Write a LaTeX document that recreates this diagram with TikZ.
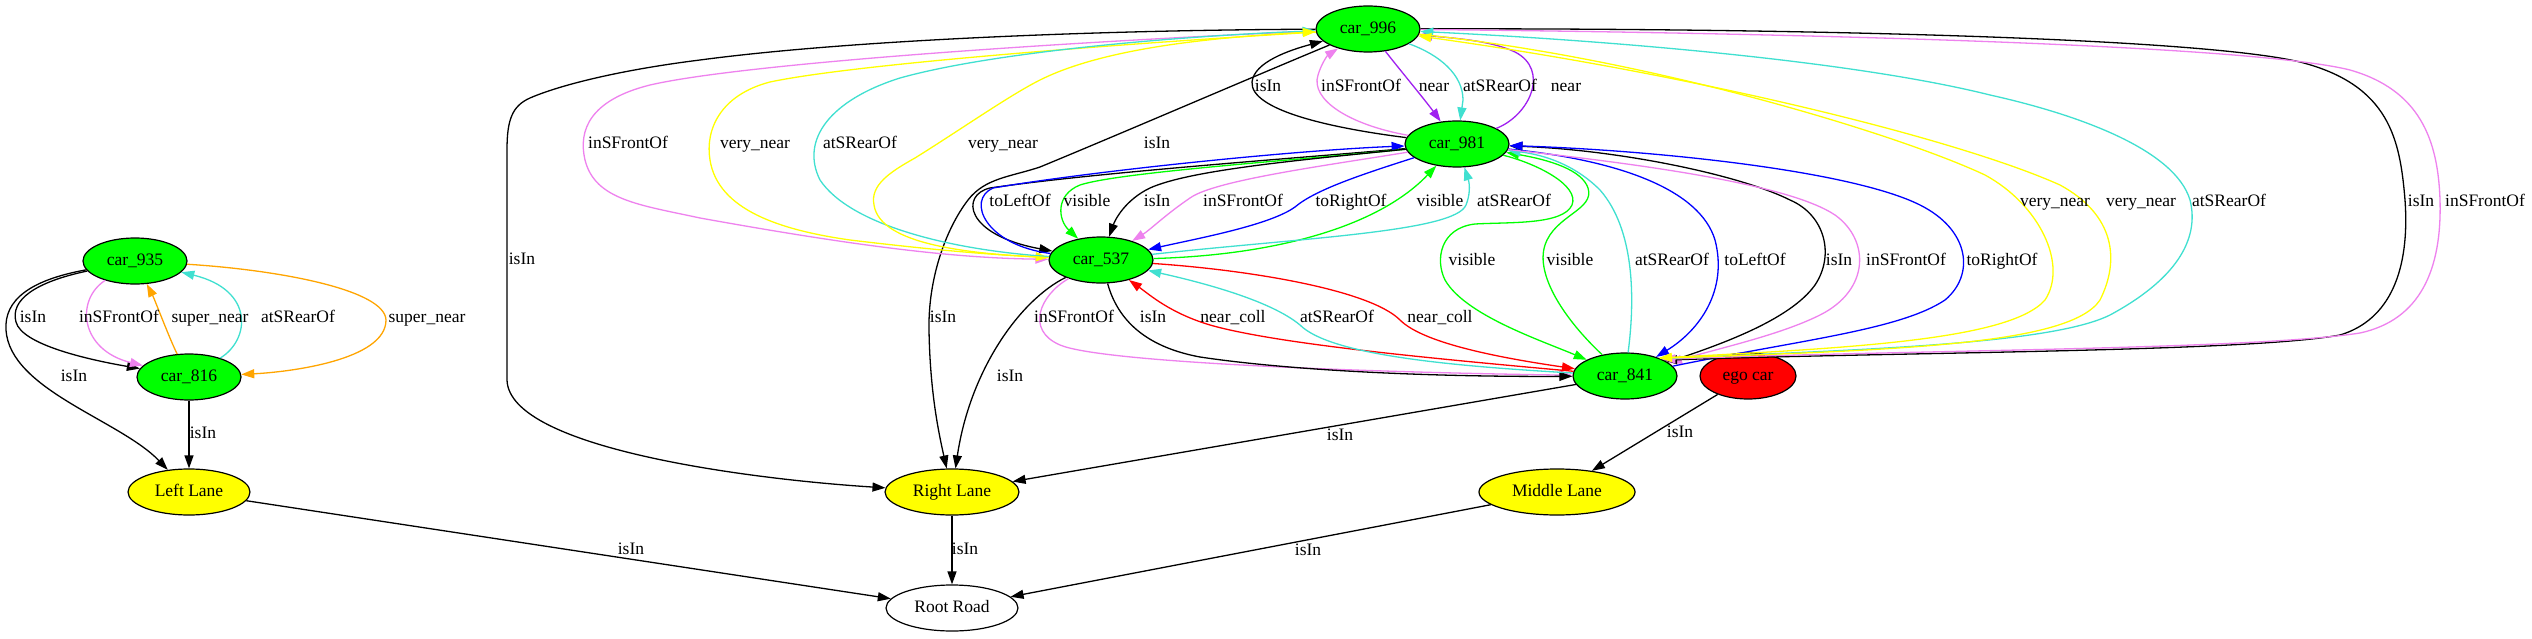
\documentclass[tikz,border=0pt]{standalone}
\usepackage{fontspec}
\setmainfont{Liberation Serif}
\usetikzlibrary{shapes.geometric,arrows.meta}
\definecolor{gvgreen}{HTML}{00FF00}
\definecolor{gvred}{HTML}{FF0000}
\definecolor{gvyellow}{HTML}{FFFF00}
\definecolor{gvviolet}{HTML}{EE82EE}
\definecolor{gvturq}{HTML}{40E0D0}
\definecolor{gvorange}{HTML}{FFA500}
\definecolor{gvblue}{HTML}{0000FF}
\definecolor{gvpurple}{HTML}{A020F0}
\begin{document}
\begin{tikzpicture}[x=1pt,y=-1pt,
  gvnode/.style={ellipse, draw=black, line width=1.2pt, inner sep=0pt, minimum height=46pt,
    font=\fontsize{17.5}{20}\selectfont, text height=12.5pt, text depth=3.5pt},
  car/.style={gvnode, fill=gvgreen, minimum width=104pt},
  lane/.style={gvnode, fill=gvyellow},
  lab/.style={inner sep=0pt, font=\fontsize{17.5}{20}\selectfont, text height=12.5pt, text depth=3.5pt},
  e/.style={line width=1.3pt, -{Triangle[length=13pt,width=9pt]}}]
\fill[white] (0,0) rectangle (2532,639);
\useasboundingbox (0,0) rectangle (2532,639);
% nodes
\node[car] (c996) at (1368,29) {car\_996};
\node[car] (c981) at (1457,144) {car\_981};
\node[car] (c537) at (1101,260) {car\_537};
\node[car] (c841) at (1625,376) {car\_841};
\node[gvnode, fill=gvred, minimum width=96pt] (ego) at (1748,376) {ego car};
\node[car] (c935) at (135,261) {car\_935};
\node[car] (c816) at (189,377) {car\_816};
\node[lane, minimum width=122pt] (left) at (189,492) {Left Lane};
\node[lane, minimum width=134pt] (right) at (952,492) {Right Lane};
\node[lane, minimum width=156pt] (middle) at (1557,492) {Middle Lane};
\node[gvnode, fill=white, minimum width=132pt] (root) at (952,608) {Root Road};
% left cluster
\draw[e] (c935) .. controls (35,282) and (10,300) .. (16,322) .. controls (22,345) and (90,360) .. (c816);
\draw[e] (c935) .. controls (30,280) and (4,300) .. (6,330) .. controls (10,390) and (120,420) .. (left);
\draw[e,gvviolet] (c935) .. controls (75,300) and (80,350) .. (c816);
\draw[e,gvorange] (c816) .. controls (170,340) and (155,300) .. (c935);
\draw[e,gvturq] (c816) .. controls (250,340) and (255,290) .. (c935);
\draw[e,gvorange] (c935) .. controls (280,270) and (385,290) .. (386,320) .. controls (386,360) and (290,372) .. (c816);
\draw[e] (c816) -- (left);
\draw[e] (left) -- (root);
\draw[e] (right) -- (root);
\draw[e] (middle) -- (root);
\draw[e] (ego) -- (middle);
\draw[e] (c841) -- (right);
% car_996 -> Right Lane (big loop)
\draw[e] (c996) .. controls (1100,30) and (850,40) .. (700,60) .. controls (620,70) and (560,85) .. (530,98) .. controls (512,106) and (507,120) .. (507,150) -- (507,380) .. controls (509,450) and (760,480) .. (right);
\draw[e] (c996) .. controls (1250,78) and (1120,134) .. (1040,167) .. controls (1010,177) and (985,178) .. (968,200) .. controls (945,230) and (928,280) .. (929,330) .. controls (930,390) and (938,430) .. (right);
% car_981 <-> car_537
\draw[e] (c981) .. controls (1300,158) and (1100,172) .. (990,188) .. controls (960,195) and (965,235) .. (c537);
\draw[e,gvblue] (c537) .. controls (985,245) and (966,200) .. (993,188) .. controls (1100,170) and (1300,150) .. (c981);
\draw[e,gvgreen] (c981) .. controls (1300,160) and (1120,172) .. (1080,185) .. controls (1055,195) and (1058,220) .. (c537);
\draw[e] (c981) .. controls (1300,160) and (1190,170) .. (1150,188) .. controls (1125,200) and (1115,220) .. (c537);
\draw[e,gvviolet] (c981) .. controls (1330,165) and (1215,180) .. (1190,198) .. controls (1165,215) and (1150,230) .. (c537);
\draw[e,gvblue] (c981) .. controls (1360,175) and (1315,190) .. (1295,207) .. controls (1270,225) and (1200,238) .. (c537);
\draw[e,gvgreen] (c537) .. controls (1280,255) and (1380,225) .. (c981);
\draw[e,gvturq] (c537) .. controls (1300,238) and (1455,232) .. (1466,205) .. controls (1470,195) and (1470,185) .. (c981);
% car_996 <-> car_981
\draw[e] (c981) .. controls (1330,128) and (1250,110) .. (1252,82) .. controls (1254,62) and (1290,50) .. (c996);
\draw[e,gvviolet] (c981) .. controls (1350,125) and (1310,100) .. (1318,75) .. controls (1322,62) and (1328,55) .. (c996);
\draw[e,gvpurple] (c996) .. controls (1400,70) and (1425,100) .. (c981);
\draw[e,gvturq] (c996) .. controls (1440,55) and (1463,75) .. (1463,100) -- (c981);
\draw[e,gvpurple] (c981) .. controls (1530,115) and (1550,70) .. (1515,52) .. controls (1490,40) and (1450,38) .. (c996);
% car_996 <-> car_537
\draw[e,gvviolet] (c996) .. controls (1100,40) and (750,62) .. (650,85) .. controls (590,100) and (578,130) .. (585,160) .. controls (595,200) and (640,205) .. (700,218) .. controls (850,245) and (950,258) .. (c537);
\draw[e,gvyellow] (c996) .. controls (1100,45) and (850,65) .. (770,82) .. controls (720,95) and (705,130) .. (710,160) .. controls (718,210) and (780,230) .. (850,240) .. controls (950,252) and (1000,255) .. (c537);
\draw[e,gvturq] (c537) .. controls (950,250) and (850,225) .. (820,180) .. controls (800,140) and (830,100) .. (900,78) .. controls (1000,50) and (1200,35) .. (c996);
\draw[e,gvyellow] (c537) .. controls (970,254) and (880,245) .. (874,205) .. controls (870,185) and (890,172) .. (915,158) .. controls (960,130) and (1010,95) .. (1040,80) .. controls (1100,50) and (1200,38) .. (c996);
% car_981 <-> car_841
\draw[e,gvgreen] (c981) .. controls (1535,163) and (1580,185) .. (1572,205) .. controls (1563,225) and (1510,222) .. (1475,224) .. controls (1440,228) and (1435,260) .. (1445,280) .. controls (1465,315) and (1540,340) .. (c841);
\draw[e,gvgreen] (c841) .. controls (1565,320) and (1535,275) .. (1545,245) .. controls (1555,215) and (1595,210) .. (1588,188) .. controls (1582,170) and (1550,160) .. (c981);
\draw[e,gvturq] (c841) .. controls (1635,300) and (1635,230) .. (1600,190) .. controls (1575,165) and (1545,155) .. (c981);
\draw[e,gvblue] (c981) .. controls (1620,160) and (1700,190) .. (1715,240) .. controls (1728,290) and (1700,330) .. (c841);
\draw[e] (c841) .. controls (1720,345) and (1790,320) .. (1815,285) .. controls (1835,255) and (1825,215) .. (1790,200) .. controls (1740,175) and (1620,150) .. (c981);
\draw[e,gvviolet] (c981) .. controls (1650,165) and (1790,185) .. (1835,215) .. controls (1870,240) and (1870,290) .. (1820,315) .. controls (1780,335) and (1720,348) .. (c841);
\draw[e,gvblue] (c841) .. controls (1800,340) and (1900,330) .. (1945,300) .. controls (1975,275) and (1970,230) .. (1920,205) .. controls (1850,170) and (1650,150) .. (c981);
% car_996 <-> car_841
\draw[e] (c996) .. controls (1800,28) and (2200,38) .. (2300,62) .. controls (2390,85) and (2400,140) .. (2405,200) .. controls (2410,270) and (2390,320) .. (2340,335) .. controls (2250,352) and (1900,352) .. (c841.22);
\draw[e,gvviolet] (c996) .. controls (1800,33) and (2250,45) .. (2350,70) .. controls (2420,90) and (2438,140) .. (2440,200) .. controls (2442,270) and (2420,320) .. (2360,333) .. controls (2250,350) and (1900,350) .. (c841.24);
\draw[e,gvturq] (c841.26) .. controls (1850,350) and (2050,345) .. (2110,315) .. controls (2175,280) and (2200,240) .. (2190,200) .. controls (2175,150) and (2080,115) .. (1990,95) .. controls (1850,60) and (1600,40) .. (c996);
\draw[e,gvyellow] (c996) .. controls (1650,58) and (1900,135) .. (1985,175) .. controls (2040,205) and (2068,265) .. (2045,300) .. controls (2010,340) and (1850,348) .. (c841.28);
\draw[e,gvyellow] (c841.27) .. controls (1900,350) and (2070,345) .. (2100,300) .. controls (2120,260) and (2115,215) .. (2060,185) .. controls (1960,140) and (1700,75) .. (c996);
% car_537 <-> car_841
\draw[e,gvviolet] (c537) .. controls (1040,295) and (1025,330) .. (1060,345) .. controls (1100,362) and (1350,372) .. (c841);
\draw[e] (c537) .. controls (1115,310) and (1135,345) .. (1200,357) .. controls (1300,372) and (1450,377) .. (c841);
\draw[e,gvred] (c841) .. controls (1450,360) and (1280,345) .. (1210,325) .. controls (1170,313) and (1150,295) .. (c537);
\draw[e,gvturq] (c841) .. controls (1450,366) and (1330,355) .. (1300,325) .. controls (1270,300) and (1200,282) .. (c537);
\draw[e,gvred] (c537) .. controls (1250,270) and (1370,290) .. (1400,320) .. controls (1420,340) and (1480,355) .. (c841);
\draw[e] (c537) .. controls (1020,300) and (970,370) .. (right);
% labels
\node[lab] (l01) at (1268,87) {isIn};
\node[lab] (l02) at (1361,87) {inSFrontOf};
\node[lab] (l03) at (1434,87) {near};
\node[lab] (l04) at (1500,87) {atSRearOf};
\node[lab] (l05) at (1566,87) {near};
\node[lab] (l06) at (628,144) {inSFrontOf};
\node[lab] (l07) at (755,144) {very\_near};
\node[lab] (l08) at (860,144) {atSRearOf};
\node[lab] (l09) at (1003,144) {very\_near};
\node[lab] (l10) at (1157,144) {isIn};
\node[lab] (l11) at (1020,202) {toLeftOf};
\node[lab] (l12) at (1087,202) {visible};
\node[lab] (l13) at (1157,202) {isIn};
\node[lab] (l14) at (1243,202) {inSFrontOf};
\node[lab] (l15) at (1351,202) {toRightOf};
\node[lab] (l16) at (1440,202) {visible};
\node[lab] (l17) at (1514,202) {atSRearOf};
\node[lab] (l18) at (2055,202) {very\_near};
\node[lab] (l19) at (2141,202) {very\_near};
\node[lab] (l20) at (2229,202) {atSRearOf};
\node[lab] (l21) at (2421,202) {isIn};
\node[lab] (l22) at (2485,202) {inSFrontOf};
\node[lab] (l23) at (522,260) {isIn};
\node[lab] (l24) at (1472,261) {visible};
\node[lab] (l25) at (1570,261) {visible};
\node[lab] (l26) at (1672,261) {atSRearOf};
\node[lab] (l27) at (1755,261) {toLeftOf};
\node[lab] (l28) at (1839,261) {isIn};
\node[lab] (l29) at (1906,261) {inSFrontOf};
\node[lab] (l30) at (2002,261) {toRightOf};
\node[lab] (l31) at (33,318) {isIn};
\node[lab] (l32) at (119,318) {inSFrontOf};
\node[lab] (l33) at (210,318) {super\_near};
\node[lab] (l34) at (298,318) {atSRearOf};
\node[lab] (l35) at (427,318) {super\_near};
\node[lab] (l36) at (943,318) {isIn};
\node[lab] (l37) at (1074,318) {inSFrontOf};
\node[lab] (l38) at (1153,318) {isIn};
\node[lab] (l39) at (1233,318) {near\_coll};
\node[lab] (l40) at (1337,318) {atSRearOf};
\node[lab] (l41) at (1440,318) {near\_coll};
\node[lab] (l42) at (74,377) {isIn};
\node[lab] (l43) at (1010,377) {isIn};
\node[lab] (l44) at (203,434) {isIn};
\node[lab] (l45) at (1340,436) {isIn};
\node[lab] (l46) at (1680,433) {isIn};
\node[lab] (l47) at (631,550) {isIn};
\node[lab] (l48) at (965,550) {isIn};
\node[lab] (l49) at (1308,551) {isIn};
\end{tikzpicture}
\end{document}
